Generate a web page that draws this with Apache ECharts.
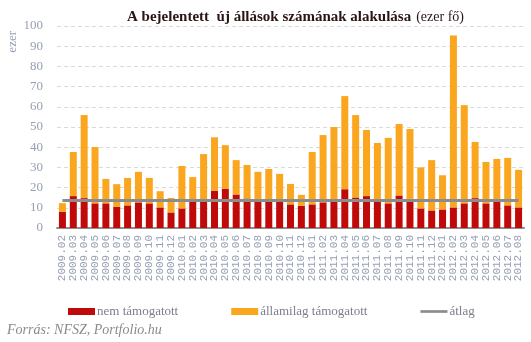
<!DOCTYPE html>
<html>
<head>
<meta charset="utf-8">
<script src="https://cdn.jsdelivr.net/npm/echarts@6/dist/echarts.min.js"></script>
<style>html,body{margin:0;padding:0;background:#fff;}#c{width:531px;height:342px;}</style>
</head>
<body>
<div id="c"></div>
<script>
const categories = ["2009.02","2009.03","2009.04","2009.05","2009.06","2009.07","2009.08","2009.09","2009.10","2009.11","2009.12",
"2010.01","2010.02","2010.03","2010.04","2010.05","2010.06","2010.07","2010.08","2010.09","2010.10","2010.11","2010.12",
"2011.01","2011.02","2011.03","2011.04","2011.05","2011.06","2011.07","2011.08","2011.09","2011.10","2011.11","2011.12",
"2012.01","2012.02","2012.03","2012.04","2012.05","2012.06","2012.07","2012.08"];
const totals = [12.3,37.6,55.9,40.1,24.3,21.7,24.8,27.8,24.8,18.2,14.9,
30.7,25.2,36.6,44.9,41.0,33.6,31.2,27.8,29.2,26.8,21.8,16.4,
37.6,46.0,50.0,65.3,55.9,48.5,42.1,44.6,51.5,49.0,30.0,33.6,
26.1,95.3,60.8,42.6,32.7,34.2,34.7,28.8];
const nemTamogatott = [8.0,15.8,14.8,12.2,12.2,10.5,11.2,12.7,12.2,10.2,7.7,
9.7,13.8,13.5,18.5,19.5,16.6,14.6,13.4,13.4,13.0,11.7,11.0,
11.7,12.7,13.4,19.2,15.1,15.8,13.4,12.2,16.1,14.4,9.7,8.7,
9.2,10.2,12.2,14.8,12.2,13.2,11.2,10.2];
const allamilag = totals.map((t, i) => +(t - nemTamogatott[i]).toFixed(1));
const atlag = [13.6,13.6,13.6,13.6,13.6,13.6,13.6,13.6,13.6,13.6,13.6,
13.6,13.6,13.6,13.6,13.6,13.6,13.6,13.6,13.6,13.6,13.6,13.6,
13.6,13.6,13.6,13.6,13.6,13.6,13.6,13.6,13.6,13.6,13.6,13.6,
13.6,13.6,13.6,13.6,13.6,13.6,13.6,13.6];
const yTicks = {min: 0, max: 100, interval: 10};

const serif = '"Liberation Serif", "DejaVu Serif", serif';
const labelColor = '#97a0b2';
const chart = echarts.init(document.getElementById('c'));
chart.setOption({
  animation: false,
  title: {
    text: '{b|A bejelentett  új állások számának alakulása} {n|(ezer fő)}',
    left: 122, top: 3,
    textStyle: {
      rich: {
        b: {fontFamily: serif, fontWeight: 'bold', fontSize: 15, color: '#2a1414'},
        n: {fontFamily: serif, fontWeight: 'normal', fontSize: 14, color: '#2a1414'}
      }
    }
  },
  graphic: [
    {type: 'text', left: 6, top: 31, rotation: Math.PI / 2,
     style: {text: 'ezer', fontFamily: serif, fontSize: 13, fill: labelColor}},
    {type: 'text', left: 7, top: 323,
     style: {text: 'Forrás: NFSZ, Portfolio.hu', fontFamily: serif, fontStyle: 'italic', fontSize: 14, fill: '#8a8a8a'}}
  ],
  legend: {
    left: 63, top: 300, itemGap: 53, itemWidth: 27, itemHeight: 7,
    textStyle: {fontFamily: serif, fontSize: 13, color: '#7d7d8c', padding: [0,0,0,-3]},
    data: [
      {name: 'nem támogatott', icon: 'rect'},
      {name: 'államilag támogatott', icon: 'rect'},
      {name: 'átlag', icon: 'path://M0,0H30V3H0Z'}
    ]
  },
  grid: {left: 57, right: 7, top: 26, bottom: 114},
  xAxis: {
    type: 'category', data: categories, boundaryGap: true,
    axisLine: {lineStyle: {color: '#8e8e8e', width: 2}},
    axisTick: {show: false},
    axisLabel: {interval: 0, rotate: 90, fontFamily: '"Liberation Mono", monospace', fontSize: 11, color: labelColor, margin: 7}
  },
  yAxis: {
    type: 'value', min: yTicks.min, max: yTicks.max, interval: yTicks.interval,
    axisLine: {show: false}, axisTick: {show: false},
    axisLabel: {fontFamily: serif, fontSize: 13, color: labelColor, margin: 14},
    splitLine: {lineStyle: {color: '#d9d9d9', type: [4, 3]}}
  },
  series: [
    {name: 'nem támogatott', type: 'bar', stack: 's', data: nemTamogatott, barWidth: 7,
     itemStyle: {color: '#c00a0a'}},
    {name: 'államilag támogatott', type: 'bar', stack: 's', data: allamilag, barWidth: 7,
     itemStyle: {color: '#faa61e'}},
    {name: 'átlag', type: 'line', data: atlag, symbol: 'none', z: 5,
     lineStyle: {color: '#8c8c8c', width: 3}, itemStyle: {color: '#8c8c8c'}}
  ]
});
</script>
</body>
</html>
